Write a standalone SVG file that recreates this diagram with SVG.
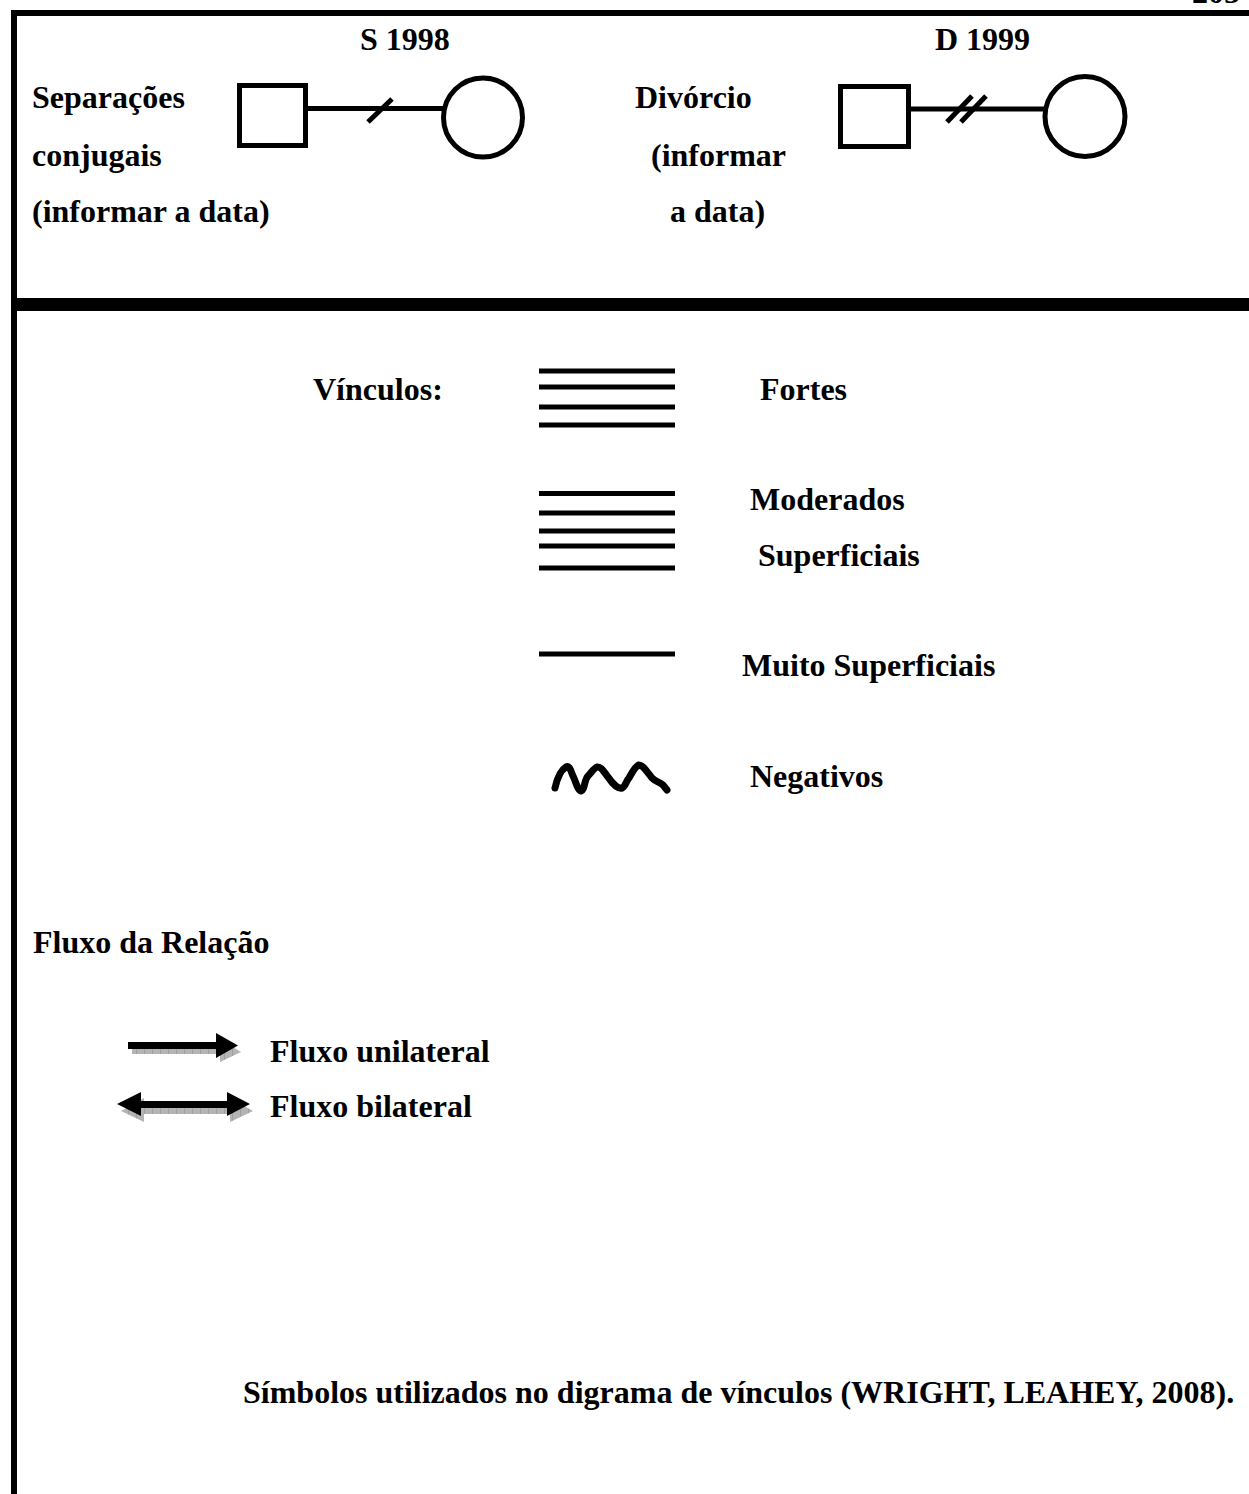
<svg xmlns="http://www.w3.org/2000/svg" width="1249" height="1494" viewBox="0 0 1249 1494">
  <style>
    text { font-family: "Liberation Serif", "Times New Roman", serif; font-weight: bold; font-size: 32px; fill: #000; }
    .frame { fill: #000; }
    .sym { fill: none; stroke: #000; stroke-width: 5; }
    .bar { stroke: #000; stroke-width: 5; }
    .wave { fill: none; stroke: #000; stroke-width: 7; stroke-linecap: round; stroke-linejoin: round; }
    .arrow { fill: #000; }
  </style>
  <defs>
    <pattern id="hatch" width="8" height="8" patternUnits="userSpaceOnUse">
      <rect width="8" height="8" fill="#b4b4b4"/>
      <line x1="0" y1="0" x2="0" y2="8" stroke="#8a8a8a" stroke-width="1"/>
    </pattern>
  </defs>

  <rect width="1249" height="1494" fill="#fff"/>

  <!-- page number, mostly above the sheet edge -->
  <text x="1192" y="3">205</text>

  <!-- frame -->
  <g id="frame">
    <rect class="frame" x="11" y="10" width="1238" height="6"/>
    <rect class="frame" x="11" y="10" width="6" height="1484"/>
    <rect class="frame" x="11" y="298" width="1238" height="13"/>
  </g>

  <!-- separation -->
  <g id="separacao">
    <text x="360" y="50">S 1998</text>
    <text x="32" y="108">Separações</text>
    <text x="32" y="166">conjugais</text>
    <text x="32" y="222">(informar a data)</text>
    <rect class="sym" x="239.5" y="85.5" width="66" height="60"/>
    <circle class="sym" cx="483" cy="117.5" r="39.5"/>
    <line class="sym" x1="308" y1="108.5" x2="443" y2="108.5"/>
    <line class="sym" x1="368" y1="122" x2="392" y2="99"/>
  </g>

  <!-- divorce -->
  <g id="divorcio">
    <text x="935" y="50">D 1999</text>
    <text x="635" y="108">Divórcio</text>
    <text x="651" y="166">(informar</text>
    <text x="670" y="222">a data)</text>
    <rect class="sym" x="840.5" y="86.5" width="68" height="60"/>
    <circle class="sym" cx="1085" cy="116.5" r="40"/>
    <line class="sym" x1="911" y1="109" x2="1045" y2="109"/>
    <line class="sym" x1="947" y1="122" x2="972" y2="96"/>
    <line class="sym" x1="961" y1="122" x2="986" y2="96"/>
  </g>

  <!-- ties legend -->
  <g id="vinculos">
    <text x="313" y="400">Vínculos:</text>
  </g>
  <g id="fortes">
    <line class="bar" x1="539" y1="371" x2="675" y2="371"/>
    <line class="bar" x1="539" y1="387" x2="675" y2="387"/>
    <line class="bar" x1="539" y1="407" x2="675" y2="407"/>
    <line class="bar" x1="539" y1="425" x2="675" y2="425"/>
    <text x="760" y="400">Fortes</text>
  </g>
  <g id="moderados">
    <line class="bar" x1="539" y1="493.5" x2="675" y2="493.5"/>
    <line class="bar" x1="539" y1="513" x2="675" y2="513"/>
    <line class="bar" x1="539" y1="531" x2="675" y2="531"/>
    <line class="bar" x1="539" y1="546" x2="675" y2="546"/>
    <line class="bar" x1="539" y1="568" x2="675" y2="568"/>
    <text x="750" y="510">Moderados</text>
    <text x="758" y="566">Superficiais</text>
  </g>
  <g id="muito-superficiais">
    <line class="bar" x1="539" y1="654" x2="675" y2="654"/>
    <text x="742" y="676">Muito Superficiais</text>
  </g>
  <g id="negativos">
    <path class="wave" d="M555 788 C557 779 561 770 566 767 C570 765 571 772 573 776 C576 782 578 791 581 791 C585 790 584 780 588 776 C591 773 594 768 597 767 C601 766 604 772 608 777 C612 783 618 789 622 788 C626 786 626 781 629 778 C632 773 635 766 639 765 C643 765 647 772 652 778 C656 782 660 782 663 785 L667 790"/>
    <text x="750" y="787">Negativos</text>
  </g>

  <!-- relation flow -->
  <g id="fluxo">
    <text x="33" y="953">Fluxo da Relação</text>
  </g>
  <g id="fluxo-unilateral">
    <polygon fill="url(#hatch)" points="132,1049 220,1049 220,1039 241,1052 220,1062 220,1054 132,1054"/>
    <polygon class="arrow" points="128,1042 216,1042 216,1033 238,1045.5 216,1058 216,1049 128,1049"/>
    <text x="270" y="1062">Fluxo unilateral</text>
  </g>
  <g id="fluxo-bilateral">
    <polygon fill="url(#hatch)" points="121,1111 144,1098 144,1108 230,1108 230,1098 253,1111 230,1122 230,1114 144,1114 144,1122"/>
    <polygon class="arrow" points="117,1104 141,1092 141,1101 227,1101 227,1092 250,1104 227,1116 227,1108 141,1108 141,1116"/>
    <text x="270" y="1117">Fluxo bilateral</text>
  </g>

  <!-- caption -->
  <text id="legenda" x="243" y="1403">Símbolos utilizados no digrama de vínculos (WRIGHT, LEAHEY, 2008).</text>
</svg>
